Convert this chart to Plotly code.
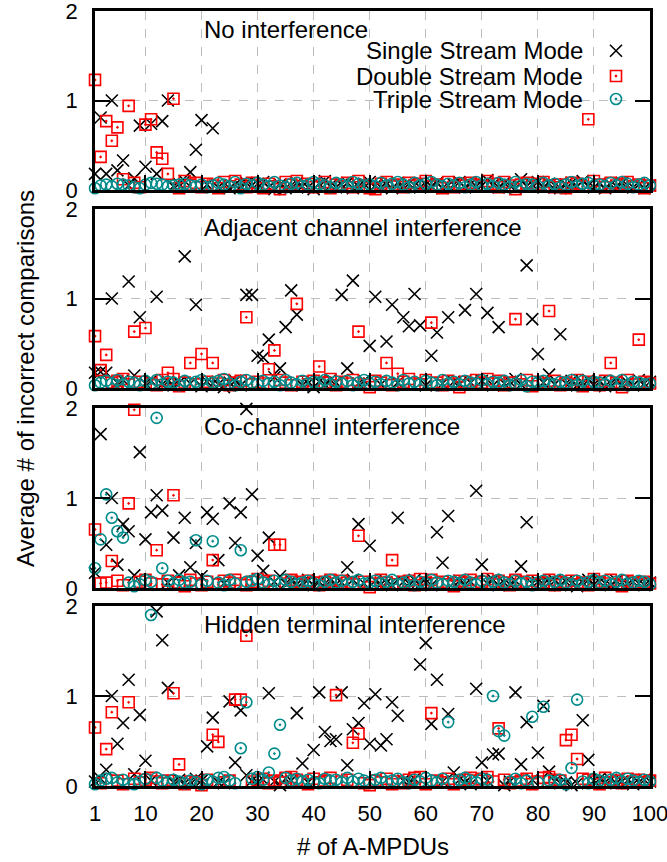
import plotly.graph_objects as go

x_vals = list(range(1, 101))

panel_titles = ["No interference", "Adjacent channel interference",
                "Co-channel interference", "Hidden terminal interference"]
series_names = ["Single Stream Mode", "Double Stream Mode", "Triple Stream Mode"]
x_tick_vals = [1, 10, 20, 30, 40, 50, 60, 70, 80, 90, 100]
y_tick_vals = [0, 1, 2]

# ---------------- Panel 1: No interference ----------------
single_no = [.18, .81, .18, 1.0, .22, .33, .05, .13, .72, .26,
             .74, .18, .77, 1.0, .04, .07, .10, .20, .45, .78,
             .06, .69, .03, .05, .02, .06, .04, .08, .05, .07,
             .09, .03, .01, .06, .02, .05, .08, .04, .03, .01,
             .07, .10, .05, .03, .06, .08, .02, .04, .07, .09,
             .05, .03, .06, .02, .08, .04, .07, .05, .03, .06,
             .04, .08, .02, .05, .06, .09, .03, .07, .04, .05,
             .11, .06, .03, .08, .05, .02, .12, .04, .06, .09,
             .03, .07, .05, .02, .06, .08, .04, .10, .05, .03,
             .07, .02, .06, .04, .08, .05, .03, .06, .02, .05]
double_no = [1.23, .37, .77, .55, .70, .12, .94, .08, .03, .73,
             .79, .42, .35, .18, 1.02, .02, .10, .06, .08, .03,
             .07, .05, .02, .09, .04, .10, .06, .03, .08, .05,
             .02, .07, .04, .01, .09, .06, .10, .04, .07, .03,
             .05, .09, .02, .06, .04, .08, .03, .10, .05, .02,
             .01, .07, .09, .04, .06, .03, .08, .05, .07, .10,
             .04, .06, .02, .09, .03, .07, .05, .08, .06, .04,
             .10, .07, .03, .09, .05, .01, .06, .08, .04, .07,
             .09, .05, .03, .06, .02, .08, .07, .04, .79, .10,
             .06, .03, .08, .05, .07, .09, .04, .06, .02, .05]
triple_no = [.02, .05, .06, .04, .07, .06, .05, .03, .02, .06,
             .08, .07, .06, .04, .05, .06, .07, .05, .04, .06,
             .03, .05, .08, .06, .04, .09, .02, .07, .05, .08,
             .06, .04, .09, .05, .03, .07, .08, .04, .06, .09,
             .07, .05, .03, .08, .06, .04, .09, .07, .05, .06,
             .04, .08, .05, .07, .09, .06, .03, .08, .05, .07,
             .09, .06, .04, .07, .05, .08, .03, .06, .09, .05,
             .07, .04, .08, .06, .03, .09, .05, .07, .06, .04,
             .08, .05, .07, .03, .06, .09, .04, .07, .08, .05,
             .06, .04, .08, .05, .09, .07, .03, .06, .08, .05]

# ---------------- Panel 2: Adjacent channel ----------------
single_adj = [.17, .18, .17, 1.0, .06, .09, 1.19, .14, .79, .05,
              .08, 1.02, .04, .07, .03, .06, 1.47, .05, .93, .02,
              .07, .05, .04, .01, .06, .08, .03, 1.04, 1.04, .36,
              .34, .54, .12, .22, .68, 1.09, .82, .03, .05, .01,
              .07, .04, .09, .06, 1.04, .22, 1.20, .05, .08, .47,
              1.02, .04, .52, .93, .06, .79, .69, 1.05, .70, .03,
              .36, .62, .05, .79, .07, .04, .87, .06, 1.05, .08,
              .84, .03, .68, .05, .07, .10, .04, 1.37, .77, .38,
              .06, .15, .04, .60, .05, .08, .03, .06, .09, .04,
              .07, .02, .05, .08, .04, .06, .03, .09, .05, .07]
double_adj = [.58, .20, .37, .06, .08, .10, .04, .63, .07, .67,
              .05, .03, .09, .17, .10, .02, .06, .28, .04, .38,
              .07, .28, .05, .09, .03, .06, .08, .79, .04, .07,
              .05, .21, .42, .09, .06, .03, .94, .07, .04, .08,
              .24, .06, .10, .03, .07, .05, .09, .63, .04, .01,
              .08, .06, .28, .03, .16, .07, .10, .05, .04, .09,
              .73, .06, .03, .08, .05, .01, .07, .04, .09, .06,
              .10, .05, .08, .03, .06, .77, .04, .09, .02, .07,
              .05, .86, .08, .03, .06, .04, .09, .02, .07, .05,
              .03, .08, .28, .06, .01, .09, .04, .54, .07, .05]
triple_adj = [.03, .06, .08, .05, .09, .04, .07, .06, .03, .08,
              .05, .09, .04, .07, .06, .03, .08, .05, .07, .09,
              .04, .06, .08, .10, .05, .03, .07, .09, .06, .04,
              .08, .05, .07, .03, .09, .06, .04, .08, .05, .07,
              .06, .09, .04, .07, .05, .08, .03, .06, .09, .05,
              .07, .04, .08, .06, .03, .09, .05, .07, .04, .08,
              .06, .03, .09, .05, .07, .04, .08, .06, .05, .09,
              .04, .07, .06, .08, .03, .05, .09, .02, .07, .06,
              .08, .05, .04, .07, .06, .09, .03, .08, .05, .07,
              .06, .04, .08, .05, .09, .03, .07, .06, .04, .05]

# ---------------- Panel 3: Co-channel ----------------
single_co = [.17, 1.71, .48, 1.0, .26, .71, .63, .14, 1.51, .54,
             .84, 1.03, .86, .06, .56, .14, .78, .23, .50, .13,
             .84, .77, .31, .05, .94, .50, .84, 1.99, 1.04, .36,
             .19, .56, .07, .13, .05, .08, .04, .06, .09, .03,
             .07, .05, .08, .04, .06, .23, .09, .71, .05, .47,
             .08, .04, .06, .03, .78, .07, .05, .09, .04, .06,
             .03, .62, .28, .80, .06, .08, .04, .07, 1.08, .26,
             .05, .09, .03, .06, .04, .08, .24, .73, .05, .07,
             .04, .06, .08, .03, .07, .05, .02, .06, .09, .04,
             .07, .05, .03, .08, .06, .04, .07, .05, .03, .06]
double_co = [.65, .05, .06, .30, .08, .03, .94, 1.98, .07, .09,
             .05, .42, .04, .08, 1.03, .06, .02, .09, .05, .03,
             .07, .31, .04, .08, .06, .09, .05, .03, .07, .10,
             .06, .08, .48, .48, .05, .09, .07, .04, .08, .06,
             .03, .07, .09, .05, .08, .06, .04, .58, .07, .01,
             .05, .09, .06, .31, .04, .07, .08, .03, .10, .06,
             .09, .05, .07, .04, .02, .08, .06, .09, .05, .07,
             .10, .04, .08, .06, .03, .09, .07, .05, .08, .04,
             .06, .09, .03, .07, .05, .08, .04, .06, .03, .10,
             .07, .05, .09, .04, .02, .08, .06, .04, .07, .05]
triple_co = [.22, .54, 1.04, .78, .63, .56, .06, .02, .04, .09,
             .07, 1.89, .22, .08, .05, .09, .06, .07, .53, .04,
             .08, .52, .06, .03, .09, .05, .42, .07, .08, .10,
             .06, .04, .08, .05, .09, .07, .04, .06, .08, .05,
             .03, .07, .09, .06, .08, .04, .07, .09, .05, .06,
             .08, .05, .07, .09, .04, .06, .08, .03, .07, .05,
             .09, .06, .04, .08, .07, .05, .09, .06, .04, .08,
             .05, .07, .09, .06, .04, .08, .05, .07, .03, .06,
             .08, .05, .07, .09, .06, .04, .08, .05, .07, .09,
             .06, .08, .04, .07, .09, .05, .06, .08, .07, .04]

# ---------------- Panel 4: Hidden terminal ----------------
single_hid = [.05, .08, .18, 1.0, .47, .70, 1.18, .13, .79, .28,
              .06, 1.94, 1.62, 1.09, .04, .07, .03, .05, .08, .06,
              .44, .76, .04, .03, .94, .26, .84, .12, .06, .04,
              .07, 1.03, .05, .01, .08, .06, .81, .25, .04, .40,
              1.04, .60, .50, .52, 1.04, .23, .63, .70, .92, .47,
              1.02, .45, .52, .93, .78, .06, .04, .08, 1.35, 1.59,
              .69, 1.18, .05, .80, .15, .07, .04, .02, 1.08, .26,
              .06, .35, .36, .01, .05, 1.04, .24, .71, .07, .37,
              .89, .16, .05, .03, .04, .01, .03, .73, .29, .06,
              .08, .04, .07, .03, .05, .06, .02, .04, .07, .05]
double_hid = [.65, .03, .41, .82, .06, .02, .93, .08, .04, .07,
              .09, .05, .03, .06, 1.03, .24, .02, .05, .04, .01,
              .07, .57, .49, .04, .06, .96, .96, 1.67, .05, .07,
              .08, .03, .06, .04, .09, .10, .07, .05, .02, .08,
              .04, .06, .09, 1.01, .05, .07, .48, .58, .03, .01,
              .06, .04, .08, .02, .05, .03, .07, .09, .10, .02,
              .81, .06, .04, .08, .02, .05, .07, .09, .06, .08,
              .10, .05, .64, .07, .03, .04, .06, .08, .02, .05,
              .09, .10, .07, .06, .51, .57, .30, .08, .07, .05,
              .02, .09, .04, .06, .03, .08, .05, .07, .04, .06]
triple_hid = [.02, .06, .08, .09, .04, .07, .03, .02, .05, .08,
              1.90, .09, .06, .04, .07, .05, .03, .06, .04, .02,
              .07, .05, .09, .10, .06, .03, .42, .93, .08, .10,
              .07, .15, .36, .68, .09, .06, .08, .05, .07, .04,
              .03, .08, .06, .07, .04, .09, .05, .08, .06, .04,
              .07, .09, .05, .06, .08, .04, .03, .07, .05, .09,
              .06, .04, .08, .71, .05, .07, .09, .06, .04, .08,
              .07, 1.00, .61, .56, .05, .08, .03, .06, .77, .04,
              .88, .06, .04, .07, .02, .20, .96, .05, .03, .08,
              .06, .04, .07, .09, .05, .08, .06, .04, .07, .05]

panels = [
    (single_no, double_no, triple_no),
    (single_adj, double_adj, triple_adj),
    (single_co, double_co, triple_co),
    (single_hid, double_hid, triple_hid),
]

# ---------------- styling ----------------
FONT = "Liberation Sans, Arial, Helvetica, sans-serif"
FS = 24
TFS = 22
W, H = 667, 862
L, R, T, B = 95, 17, 11, 76
ph = H - T - B
pw = W - L - R
panel_px = [(11, 190), (209, 388), (408, 588), (606, 786)]
domains = [[1 - (b - T) / ph, 1 - (t - T) / ph] for (t, b) in panel_px]

styles = [
    dict(symbol="x-thin", size=12, color="black", line=dict(width=1.6, color="black")),
    dict(symbol="square-open-dot", size=11, color="#ff0000", line=dict(width=1.6)),
    dict(symbol="circle-open-dot", size=11, color="#008b8b", line=dict(width=1.6)),
]

fig = go.Figure()
for i, series in enumerate(panels):
    ax = "" if i == 0 else str(i + 1)
    for j, yv in enumerate(series):
        fig.add_trace(go.Scatter(
            x=x_vals, y=yv, mode="markers", name=series_names[j],
            marker=styles[j], cliponaxis=False, showlegend=False,
            xaxis="x" + ax, yaxis="y" + ax))

axis_common = dict(showline=True, linecolor="black", linewidth=2.5,
                   ticks="inside", ticklen=15, tickwidth=2, tickcolor="black",
                   showgrid=True, gridcolor="#bdbdbd", griddash="dash", gridwidth=1,
                   zeroline=False, automargin=False,
                   tickfont=dict(family=FONT, size=TFS, color="black"))

layout = dict(width=W, height=H, margin=dict(l=L, r=R, t=T, b=B, autoexpand=False),
              paper_bgcolor="white", plot_bgcolor="white",
              font=dict(family=FONT, size=FS, color="black"), showlegend=False)

for i in range(4):
    k = "" if i == 0 else str(i + 1)
    layout["xaxis" + k] = dict(axis_common, range=[0.999, 100.001], tickvals=x_tick_vals,
                               ticktext=[str(v) for v in x_tick_vals],
                               anchor="y" + k, mirror=True, domain=[0, 1],
                               showticklabels=(i == 3), ticklabelstandoff=6,
                               ticklabeloverflow="allow")
    layout["yaxis" + k] = dict(axis_common, range=[0, 2], tickvals=y_tick_vals,
                               anchor="x" + k, mirror="ticks", domain=domains[i],
                               ticklabelstandoff=10, ticklabeloverflow="allow")

# overlay axes (normalized 0..1) for the legend keys of panel 1
layout["xaxis5"] = dict(overlaying="x", range=[0, 1], visible=False, anchor="y5")
layout["yaxis5"] = dict(overlaying="y", range=[0, 1], visible=False, anchor="x5")
fig.update_layout(**layout)

key_x = (616 - L) / pw
key_y = [(190 - py) / 179 for py in (50.7, 76, 99)]
for j in range(3):
    fig.add_trace(go.Scatter(x=[key_x], y=[key_y[j]], mode="markers",
                             marker=styles[j], showlegend=False, cliponaxis=False,
                             xaxis="x5", yaxis="y5", hoverinfo="skip"))
    fig.add_annotation(text=series_names[j], xref="x5", yref="y5",
                       x=(585 - L) / pw, y=key_y[j], xanchor="right",
                       yanchor="middle", showarrow=False,
                       font=dict(family=FONT, size=FS, color="black"))

# white legend box hiding the grid
fig.add_shape(type="rect", xref="paper", yref="paper",
              x0=(320 - L) / pw, x1=(645 - L) / pw,
              y0=1 - (112 - T) / ph, y1=1 - (40 - T) / ph,
              fillcolor="white", line=dict(width=0), layer="between")

for i, title in enumerate(panel_titles):
    k = "" if i == 0 else str(i + 1)
    fig.add_annotation(text=title, xref="x" + k + " domain", yref="y" + k + " domain",
                       x=(202 - L) / pw, y=1 - 18 / 179,
                       xanchor="left", yanchor="middle", showarrow=False,
                       font=dict(family=FONT, size=FS, color="black"))

fig.add_annotation(text="Average # of incorrect comparisons", xref="paper", yref="paper",
                   x=(25 - L) / pw, y=1 - (379 - T) / ph, textangle=-90,
                   xanchor="center", yanchor="middle", showarrow=False,
                   font=dict(family=FONT, size=FS, color="black"))
fig.add_annotation(text="# of A-MPDUs", xref="paper", yref="paper",
                   x=0.5, y=1 - (847 - T) / ph, xanchor="center", yanchor="middle",
                   showarrow=False, font=dict(family=FONT, size=FS, color="black"))

fig.write_html("out.html")
